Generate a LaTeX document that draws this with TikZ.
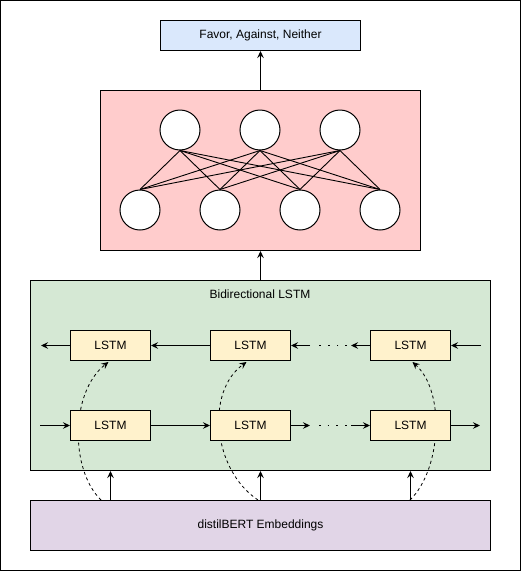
\documentclass[tikz,border=0pt]{standalone}
\usepackage{fontspec}
\setmainfont{Liberation Sans}
\usetikzlibrary{arrows.meta}
\definecolor{outblue}{HTML}{DAE8FC}
\definecolor{mlppink}{HTML}{FFCCCC}
\definecolor{lstmgreen}{HTML}{D5E8D4}
\definecolor{lstmyellow}{HTML}{FFF2CC}
\definecolor{embpurple}{HTML}{E1D5E7}
\begin{document}
\begin{tikzpicture}[x=1pt,y=-1pt, line width=1pt,
  font=\fontsize{12pt}{14pt}\selectfont,
  box/.style={draw, inner sep=0pt},
  lstmbox/.style={box, fill=lstmyellow, minimum width=80pt, minimum height=30pt},
  neuron/.style={draw, circle, fill=white, minimum size=40pt, inner sep=0pt},
  arr/.style={-{Stealth[length=7pt,width=6.5pt,inset=2.5pt]}},
  skiparr/.style={-{Stealth[length=7pt,width=6.5pt,inset=2.5pt]}, dash pattern=on 3pt off 3pt, line width=0.8pt},
  dotline/.style={line width=1.6pt, dash pattern=on 1.6pt off 7.1pt}
]
\useasboundingbox (0,0) rectangle (521,571);
\draw (0.5,0.5) rectangle (520.5,570.5);

% output
\node[box, fill=outblue, minimum width=200pt, minimum height=30pt] (out) at (260.5,35.5) {Favor, Against, Neither};

% MLP
\node[box, fill=mlppink, minimum width=320pt, minimum height=160pt] (mlp) at (260.5,170.5) {};
\foreach \i/\x in {1/180,2/260,3/340} \node[neuron] (t\i) at (\x,130) {};
\foreach \j/\x in {1/140,2/220,3/300,4/380} \node[neuron] (h\j) at (\x,210) {};
\foreach \i in {1,2,3} \foreach \j in {1,2,3,4} \draw[line width=0.9pt] (t\i.south) -- (h\j.north);

% LSTM block
\node[box, fill=lstmgreen, minimum width=460pt, minimum height=190pt] (bil) at (260.5,375.5) {};
\node (biltitle) at (260,294) {Bidirectional LSTM};

% embeddings
\node[box, fill=embpurple, minimum width=460pt, minimum height=50pt] (emb) at (260.5,525.5) {distilBERT Embeddings};

% dashed skip curves (behind LSTM cells)
\coordinate (s1) at (101,500);
\coordinate (s2) at (258,500);
\coordinate (s3) at (410,500);
\node[lstmbox] (a1) at (110.5,345.5) {LSTM};
\node[lstmbox] (a2) at (250.5,345.5) {LSTM};
\node[lstmbox] (a3) at (410.5,345.5) {LSTM};
\draw[skiparr] (s1) .. controls (70,470) and (70,392) .. ([xshift=-2pt,yshift=-1pt]a1.south);
\draw[skiparr] (s2) .. controls (213,470) and (205,392) .. ([xshift=-4pt,yshift=-1pt]a2.south);
\draw[skiparr] (s3) .. controls (441,470) and (446,392) .. ([xshift=2pt,yshift=-1pt]a3.south);
\node[lstmbox] (b1) at (110.5,425.5) {LSTM};
\node[lstmbox] (b2) at (250.5,425.5) {LSTM};
\node[lstmbox] (b3) at (410.5,425.5) {LSTM};

% backward row
\coordinate (tl) at (41,345.5);
\coordinate (tr) at (481,345.5);
\coordinate (tm1) at (310,345.5);
\coordinate (tm2) at (351,345.5);
\draw[arr] (tr) -- (a3.east);
\draw[arr] (a3.west) -- (tm2);
\draw[dotline, shorten <=4pt, shorten >=9pt] (tm2) -- (tm1);
\draw[arr] (tm1) -- (a2.east);
\draw[arr] (a2.west) -- (a1.east);
\draw[arr] (a1.west) -- (tl);

% forward row
\coordinate (bl) at (40,425.5);
\coordinate (br) at (480,425.5);
\coordinate (bm1) at (310,425.5);
\coordinate (bm2) at (351,425.5);
\draw[arr] (bl) -- (b1.west);
\draw[arr] (b1.east) -- (b2.west);
\draw[arr] (b2.east) -- (bm1);
\draw[dotline, shorten <=9pt, shorten >=4pt] (bm1) -- (bm2);
\draw[arr] (bm2) -- (b3.west);
\draw[arr] (b3.east) -- (br);

% vertical connections
\draw[arr] (emb.north -| b1) -- (bil.south -| b1);
\draw[arr] (emb.north) -- (bil.south);
\draw[arr] (emb.north -| b3) -- (bil.south -| b3);
\draw[arr] (bil.north) -- (mlp.south);
\draw[arr] (mlp.north) -- (out.south);
\end{tikzpicture}
\end{document}
